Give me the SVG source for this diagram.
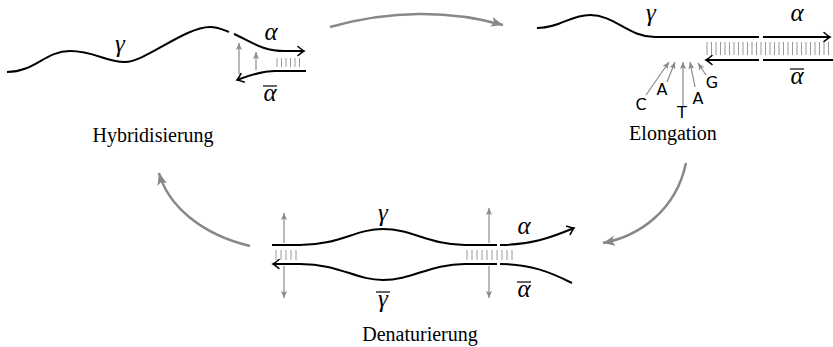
<svg xmlns="http://www.w3.org/2000/svg" width="833" height="347" viewBox="0 0 833 347">
<defs>
<marker id="tip" markerWidth="12" markerHeight="12" refX="0" refY="0" viewBox="-8 -6 10 12" orient="auto" markerUnits="userSpaceOnUse">
<path d="M-6,-4.5 Q-1.5,-0.8 0,0 Q-1.5,0.8 -6,4.5" fill="none" stroke="#000" stroke-width="1.6" stroke-linecap="round"/>
</marker>
<marker id="gtip" markerWidth="14" markerHeight="12" refX="0" refY="0" viewBox="-12 -6 14 12" orient="auto" markerUnits="userSpaceOnUse">
<path d="M-12,-5 L0,0 L-12,5 L-9,0 Z" fill="#888"/>
</marker>
<marker id="stip" markerWidth="10" markerHeight="10" refX="0" refY="0" viewBox="-8 -5 10 10" orient="auto" markerUnits="userSpaceOnUse">
<path d="M-7,-3 L0,0 L-7,3 L-5.5,0 Z" fill="#8a8a8a"/>
</marker>
</defs>
<style>
.s{fill:none;stroke:#000;stroke-width:2}
.h{stroke:#999;stroke-width:1}
.g{fill:none;stroke:#8a8a8a;stroke-width:1.2}
.cyc{fill:none;stroke:#888;stroke-width:2.5}
.m{font-family:"Liberation Serif","DejaVu Serif",serif;font-style:italic;font-size:25px;fill:#000}
.lab{font-family:"Liberation Serif",serif;font-size:20px;fill:#000}
.n{font-family:"DejaVu Sans","Noto Sans",sans-serif;font-size:16px;fill:#000}
.bar{stroke:#000;stroke-width:1.2}
</style>

<g id="hybridisierung">
<path class="s" d="M7,72 C35,72 45,51 70,51 S105,62 125,62 S185,27 210,27 C218,27 224,30 229,32"/>
<path class="s" d="M234,34 C252,42 262,51 285,51 L304,51" marker-end="url(#tip)"/>
<path class="s" d="M306,71 L276,71 C262,71 250,75 237,80" marker-end="url(#tip)"/>
<g class="h">
<line x1="277" y1="58" x2="277" y2="67"/><line x1="281.5" y1="58" x2="281.5" y2="67"/><line x1="286" y1="58" x2="286" y2="67"/><line x1="290.5" y1="58" x2="290.5" y2="67"/><line x1="295" y1="58" x2="295" y2="67"/><line x1="299.5" y1="58" x2="299.5" y2="67"/>
</g>
<line class="g" x1="239" y1="74" x2="239" y2="43" marker-end="url(#stip)"/>
<line class="g" x1="256" y1="70" x2="256" y2="52" marker-end="url(#stip)"/>
<text class="m" x="120" y="52" text-anchor="middle">γ</text>
<text class="m" x="271" y="40" text-anchor="middle">α</text>
<text class="m" x="270" y="101" text-anchor="middle">α</text>
<line class="bar" x1="263" y1="86" x2="277" y2="86"/>
<text class="lab" x="153" y="142" text-anchor="middle">Hybridisierung</text>
</g>

<g id="elongation">
<path class="s" d="M537,28 C560,28 570,15 590,15 C615,15 628,37 655,37 L759,37"/>
<path class="s" d="M763,37 L830,37" marker-end="url(#tip)"/>
<path class="s" d="M759,60 L706,60" marker-end="url(#tip)"/>
<path class="s" d="M763,60 L833,60"/>
<path class="h" d="M707,42v13M711.5,42v13M716,42v13M720.5,42v13M725,42v13M729.5,42v13M734,42v13M738.5,42v13M743,42v13M747.5,42v13M752,42v13M756.5,42v13M761,42v13M765.5,42v13M770,42v13M774.5,42v13M779,42v13M783.5,42v13M788,42v13M792.5,42v13M797,42v13M801.5,42v13M806,42v13M810.5,42v13M815,42v13M819.5,42v13M824,42v13M828.5,42v13"/>
<line class="g" x1="646" y1="95" x2="669" y2="62" marker-end="url(#stip)"/>
<line class="g" x1="667" y1="82" x2="675" y2="62" marker-end="url(#stip)"/>
<line class="g" x1="683" y1="107" x2="683" y2="62" marker-end="url(#stip)"/>
<line class="g" x1="695" y1="87" x2="690" y2="62" marker-end="url(#stip)"/>
<line class="g" x1="706" y1="75" x2="698" y2="63" marker-end="url(#stip)"/>
<text class="n" x="641" y="110" text-anchor="middle">C</text>
<text class="n" x="662" y="95" text-anchor="middle">A</text>
<text class="n" x="682" y="118" text-anchor="middle">T</text>
<text class="n" x="698" y="104" text-anchor="middle">A</text>
<text class="n" x="712" y="88" text-anchor="middle">G</text>
<text class="m" x="651" y="21" text-anchor="middle">γ</text>
<text class="m" x="797" y="21" text-anchor="middle">α</text>
<text class="m" x="797" y="84" text-anchor="middle">α</text>
<line class="bar" x1="790" y1="69" x2="804" y2="69"/>
<text class="lab" x="673" y="140" text-anchor="middle">Elongation</text>
</g>

<g id="denaturierung">
<path class="s" d="M272,245 L300,245 C340,245 355,229 383,229 C412,229 430,245 465,245 L497,245"/>
<path class="s" d="M500,245 C530,245 550,238 574,228" marker-end="url(#tip)"/>
<path class="s" d="M497,264 L465,264 C430,264 412,280 383,280 C355,280 340,264 300,264 L273,264" marker-end="url(#tip)"/>
<path class="s" d="M500,264 C530,264 550,272 572,283"/>
<path class="h" d="M276,250v10M281,250v10M286,250v10M291,250v10M296,250v10M467,250v10M472,250v10M477,250v10M482,250v10M487,250v10M492,250v10M497,250v10M502,250v10M507,250v10M512,250v10"/>
<line class="g" x1="284" y1="243" x2="284" y2="213" marker-end="url(#stip)"/>
<line class="g" x1="284" y1="266" x2="284" y2="298" marker-end="url(#stip)"/>
<line class="g" x1="489" y1="243" x2="489" y2="208" marker-end="url(#stip)"/>
<line class="g" x1="489" y1="266" x2="489" y2="298" marker-end="url(#stip)"/>
<text class="m" x="383" y="221" text-anchor="middle">γ</text>
<text class="m" x="383" y="307" text-anchor="middle">γ</text>
<line class="bar" x1="376" y1="292" x2="390" y2="292"/>
<text class="m" x="524" y="234" text-anchor="middle">α</text>
<text class="m" x="524" y="297" text-anchor="middle">α</text>
<line class="bar" x1="517" y1="282" x2="531" y2="282"/>
<text class="lab" x="420" y="341" text-anchor="middle">Denaturierung</text>
</g>

<g id="connectors">
<path class="cyc" d="M330,27 C390,10 450,10 503,25" marker-end="url(#gtip)"/>
<path class="cyc" d="M686,163 C676,210 640,236 603,243" marker-end="url(#gtip)"/>
<path class="cyc" d="M250,246 C200,234 168,205 159,173" marker-end="url(#gtip)"/>
</g>
</svg>
